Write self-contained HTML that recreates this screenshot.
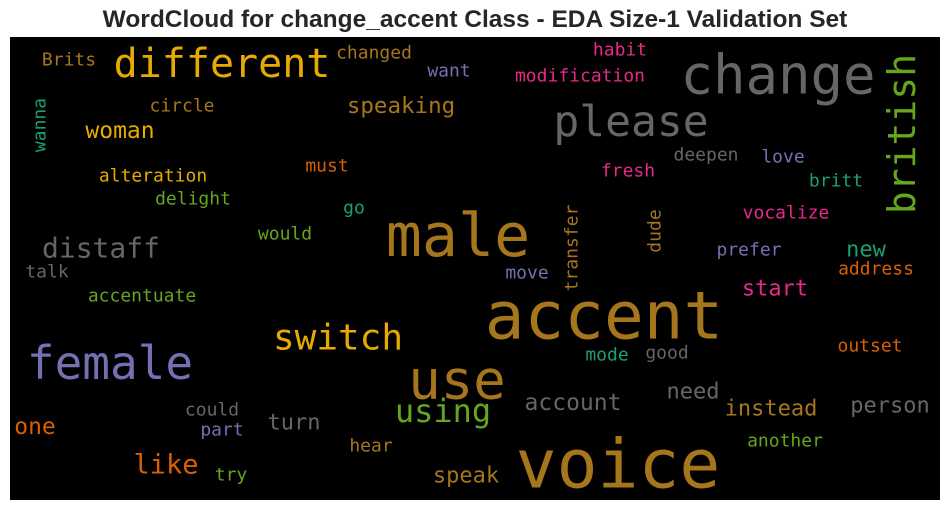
<!DOCTYPE html>
<html><head><meta charset="utf-8"><style>
html,body{margin:0;padding:0;background:#fff;width:950px;height:511px;overflow:hidden}
svg text{font-family:"DejaVu Sans Mono","Liberation Mono",monospace}
</style></head><body>
<svg id="wc" width="950" height="511" xmlns="http://www.w3.org/2000/svg">
<text x="475" y="27" text-anchor="middle" font-weight="bold" font-size="24.5" fill="#262626" style="font-family:'Liberation Sans',sans-serif">WordCloud for change_accent Class - EDA Size-1 Validation Set</text>
<rect x="10" y="37" width="930" height="463" fill="#000"/>
<g id="words"></g>
</svg>
<script>
const words=["change","please","different","male","accent","voice","use","female","switch","british","distaff","using","like","speaking","woman","account","need","instead","person","speak","turn","start","new","one","alteration","accentuate","modification","address","changed","Brits","circle","wanna","habit","want","must","delight","go","would","talk","fresh","deepen","love","britt","vocalize","prefer","move","transfer","dude","mode","good","outset","could","part","hear","try","another"];
const sizes=[54,43,40,60,66,68,54,46,36,38,28,32,27,22.5,23,23,22,22,22,22,22,22,22,23,18,18,18,18,18,18,18,18,18,18,18,18,18,18,18,18,18,18,18,18,18,18,18,18,18,18,18,18,18,18,18,18];
const cx=[778,631,222,458,604,618,457,110,338,902,101,443,166,401,120,573,693,771,890,466,294,775,866,35,153,142,580,876,374,69,182,40,620,449,327,193,354,285,47,628,706,783,836,786,749,527,572,655,607,667,870,212,222,371,231,785];
const cy=[75,122,64,236,316,465,380,363,338,134,248,411,465,106,131,403,392,409,406,476,423,289,250,427,176,296,76,269,53,60,106,125,50,71,166,199,208,234,272,171,155,157,181,213,250,273,248,231,355,353,346,410,430,446,475,441];
const vertical=[0,0,0,0,0,0,0,0,0,1,0,0,0,0,0,0,0,0,0,0,0,0,0,0,0,0,0,0,0,0,0,1,0,0,0,0,0,0,0,0,0,0,0,0,0,0,1,1,0,0,0,0,0,0,0,0];
const colors=["gray","gray","yellow","brown","brown","brown","brown","purple","yellow","green","gray","green","orange","brown","yellow","gray","gray","brown","gray","brown","gray","pink","teal","orange","yellow","green","pink","orange","brown","brown","brown","teal","pink","purple","orange","green","teal","green","gray","pink","gray","purple","teal","pink","purple","purple","brown","brown","teal","gray","orange","gray","purple","brown","green","green"];
const pal={teal:"#1b9e77",orange:"#d95f02",purple:"#7570b3",pink:"#e7298a",green:"#66a61e",yellow:"#e6ab02",brown:"#a6761d",gray:"#666666"};
const g=document.getElementById('words');
words.forEach((w,i)=>{
  const t=document.createElementNS('http://www.w3.org/2000/svg','text');
  
  
  t.setAttribute('x',cx[i]);t.setAttribute('y',cy[i]);
  t.setAttribute('text-anchor','middle');
  t.setAttribute('dominant-baseline','central');
  t.setAttribute('font-size',sizes[i]);
  t.setAttribute('fill',pal[colors[i]]);
  if(vertical[i])t.setAttribute('transform','rotate(-90 '+cx[i]+' '+cy[i]+')');
  t.textContent=w;
  g.appendChild(t);
});
</script>
</body></html>
